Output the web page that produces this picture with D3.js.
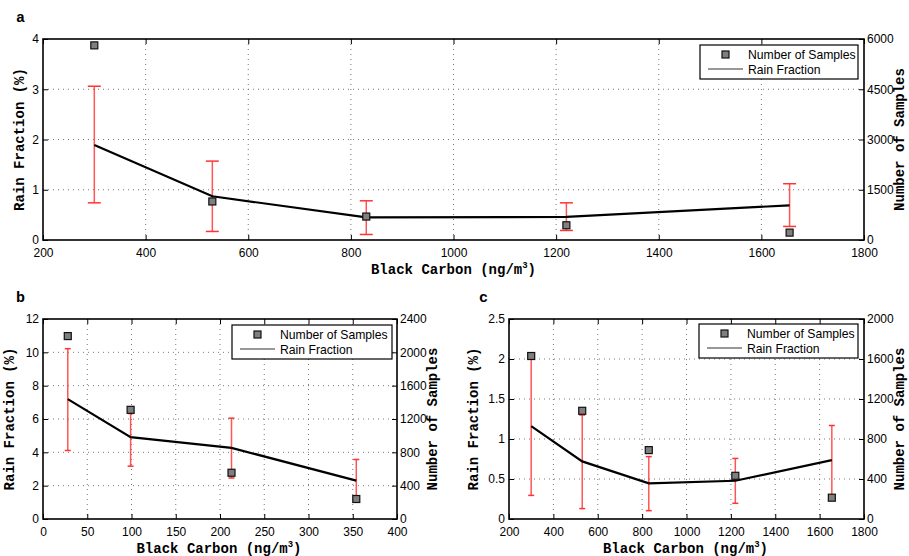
<!DOCTYPE html>
<html lang="en">
<head>
<meta charset="UTF-8">
<title>Rain Fraction vs Black Carbon</title>
<script src="https://d3js.org/d3.v7.min.js"></script>
<style>
    body { margin: 0; background: #fff; }
    svg { font-family: "Liberation Sans", Arial, sans-serif; }
    .tick-label { font-size: 12px; fill: #000; }
    .axis-label { font-family: "Liberation Mono", "DejaVu Sans Mono", monospace; font-weight: bold; font-size: 14px; }
    .panel-label { font-family: "Liberation Mono", monospace; font-weight: bold; font-size: 15px; }
    .legend-text { font-size: 12.2px; }
</style>
</head>
<body>
<div id="chart"></div>
<script>
// panel a
const bcA = [300, 530, 830, 1220, 1655];
const rainA = [1.89, 0.87, 0.45, 0.46, 0.69];
const rainLoA = [0.74, 0.17, 0.11, 0.19, 0.27];
const rainHiA = [3.06, 1.57, 0.78, 0.74, 1.12];
const samplesA = [5810, 1150, 700, 440, 220];

// panel b
const bcB = [28, 99, 213, 354];
const rainB = [7.19, 4.91, 4.27, 2.30];
const rainLoB = [4.11, 3.17, 2.46, 1.1];
const rainHiB = [10.22, 6.33, 6.05, 3.57];
const samplesB = [2195, 1310, 555, 240];

// panel c
const bcC = [300, 530, 830, 1220, 1655];
const rainC = [1.16, 0.72, 0.445, 0.478, 0.736];
const rainLoC = [0.295, 0.13, 0.104, 0.196, 0.28];
const rainHiC = [2.01, 1.30, 0.78, 0.757, 1.169];
const samplesC = [1630, 1082, 689, 432, 213];

const xTicksA = [200, 400, 600, 800, 1000, 1200, 1400, 1600, 1800];
const yTicksA = [0, 1, 2, 3, 4];
const y2TicksA = [0, 1500, 3000, 4500, 6000];
const xTicksB = [0, 50, 100, 150, 200, 250, 300, 350, 400];
const yTicksB = [0, 2, 4, 6, 8, 10, 12];
const y2TicksB = [0, 400, 800, 1200, 1600, 2000, 2400];
const xTicksC = [200, 400, 600, 800, 1000, 1200, 1400, 1600, 1800];
const yTicksC = [0, 0.5, 1, 1.5, 2, 2.5];
const y2TicksC = [0, 400, 800, 1200, 1600, 2000];

const W = 909, H = 556;
const svg = d3.select("#chart").append("svg").attr("width", W).attr("height", H);

function panel(o) {
    const x = d3.scaleLinear().domain(o.xDomain).range([o.left, o.right]);
    const y = d3.scaleLinear().domain(o.yDomain).range([o.bottom, o.top]);
    const y2 = d3.scaleLinear().domain(o.y2Domain).range([o.bottom, o.top]);
    const g = svg.append("g");

    // dotted grid
    g.selectAll(".gx").data(o.xTicks.slice(1, -1)).enter().append("line")
        .attr("x1", d => x(d)).attr("x2", d => x(d))
        .attr("y1", o.top).attr("y2", o.bottom)
        .attr("stroke", "#777").attr("stroke-width", 1).attr("stroke-dasharray", "1,4");
    g.selectAll(".gy").data(o.yTicks.slice(1, -1)).enter().append("line")
        .attr("x1", o.left).attr("x2", o.right)
        .attr("y1", d => y(d)).attr("y2", d => y(d))
        .attr("stroke", "#777").attr("stroke-width", 1).attr("stroke-dasharray", "1,4");

    // axes with inward ticks
    const tk = 5;
    g.append("g").attr("transform", `translate(0,${o.bottom})`)
        .call(d3.axisBottom(x).tickValues(o.xTicks).tickSize(-tk).tickPadding(8).tickFormat(d3.format("d")));
    g.append("g").attr("transform", `translate(0,${o.top})`)
        .call(d3.axisTop(x).tickValues(o.xTicks).tickSize(-tk).tickFormat(""));
    g.append("g").attr("transform", `translate(${o.left},0)`)
        .call(d3.axisLeft(y).tickValues(o.yTicks).tickSize(-tk).tickPadding(4).tickFormat(d => String(d)));
    g.append("g").attr("transform", `translate(${o.right},0)`)
        .call(d3.axisRight(y2).tickValues(o.y2Ticks).tickSize(-tk).tickPadding(3).tickFormat(d => String(d)));
    g.selectAll(".domain").remove();
    g.selectAll(".tick line").attr("stroke", "#000").attr("stroke-width", 1);
    g.selectAll(".tick text").attr("class", "tick-label").attr("font-size", 12)
        .attr("font-family", "Liberation Sans, Arial, sans-serif");

    g.append("rect").attr("x", o.left).attr("y", o.top)
        .attr("width", o.right - o.left).attr("height", o.bottom - o.top)
        .attr("fill", "none").attr("stroke", "#000").attr("stroke-width", 1.6);

    // error bars
    const idx = d3.range(o.bc.length);
    g.selectAll(".err").data(idx).enter().append("line")
        .attr("x1", i => x(o.bc[i])).attr("x2", i => x(o.bc[i]))
        .attr("y1", i => y(o.lo[i])).attr("y2", i => y(o.hi[i]))
        .attr("stroke", "#ff5555").attr("stroke-width", 1.5);
    ["lo", "hi"].forEach(k => {
        g.selectAll(".cap" + k).data(idx).enter().append("line")
            .attr("x1", i => x(o.bc[i]) - o.cap).attr("x2", i => x(o.bc[i]) + o.cap)
            .attr("y1", i => y(o[k][i])).attr("y2", i => y(o[k][i]))
            .attr("stroke", "#ff3333").attr("stroke-width", 1.5);
    });

    // rain fraction line
    g.append("path").datum(idx)
        .attr("d", d3.line().x(i => x(o.bc[i])).y(i => y(o.rain[i])))
        .attr("fill", "none").attr("stroke", "#000").attr("stroke-width", 2.2);

    // sample squares
    const s = 7;
    g.selectAll(".sq").data(idx).enter().append("rect")
        .attr("x", i => x(o.bc[i]) - s / 2).attr("y", i => y2(o.samples[i]) - s / 2)
        .attr("width", s).attr("height", s)
        .attr("fill", "#7f7f7f").attr("stroke", "#111").attr("stroke-width", 1.2);

    // legend
    const L = o.legend;
    g.append("rect").attr("x", L.x).attr("y", L.y).attr("width", L.w).attr("height", 34)
        .attr("fill", "#fff").attr("stroke", "#000").attr("stroke-width", 1.2);
    g.append("rect").attr("x", L.x + 22).attr("y", L.y + 6).attr("width", 7).attr("height", 7)
        .attr("fill", "#7f7f7f").attr("stroke", "#111").attr("stroke-width", 1.2);
    g.append("line").attr("x1", L.x + 8).attr("x2", L.x + 43).attr("y1", L.y + 24).attr("y2", L.y + 24)
        .attr("stroke", "#333").attr("stroke-width", 1.2);
    g.append("text").attr("class", "legend-text").attr("x", L.x + 48).attr("y", L.y + 14).text("Number of Samples");
    g.append("text").attr("class", "legend-text").attr("x", L.x + 48).attr("y", L.y + 29).text("Rain Fraction");

    // axis labels
    const xl = g.append("text").attr("class", "axis-label").attr("text-anchor", "middle")
        .attr("x", (o.left + o.right) / 2 + o.xlShift).attr("y", o.bottom + 34);
    xl.append("tspan").text("Black Carbon (ng/m");
    xl.append("tspan").attr("dy", -6).attr("font-size", 9).text("3");
    xl.append("tspan").attr("dy", 6).text(")");
    const cy = (o.top + o.bottom) / 2;
    g.append("text").attr("class", "axis-label").attr("text-anchor", "middle")
        .attr("transform", `translate(${o.yl},${cy}) rotate(-90)`).text("Rain Fraction (%)");
    g.append("text").attr("class", "axis-label").attr("text-anchor", "middle")
        .attr("transform", `translate(${o.y2l},${cy}) rotate(-90)`).text("Number of Samples");
    g.append("text").attr("class", "panel-label").attr("x", o.lx).attr("y", o.ly).text(o.name);
}

panel({
    name: "a", lx: 16, ly: 22,
    left: 43, right: 864, top: 39, bottom: 240,
    xDomain: [200, 1800], yDomain: [0, 4], y2Domain: [0, 6000],
    xTicks: xTicksA, yTicks: yTicksA, y2Ticks: y2TicksA,
    bc: bcA, rain: rainA, lo: rainLoA, hi: rainHiA, samples: samplesA,
    cap: 6.5, legend: {x: 700, y: 45, w: 158}, yl: 24, y2l: 904, xlShift: 0
});
panel({
    name: "b", lx: 16, ly: 302,
    left: 43, right: 397, top: 319, bottom: 519,
    xDomain: [0, 400], yDomain: [0, 12], y2Domain: [0, 2400],
    xTicks: xTicksB, yTicks: yTicksB, y2Ticks: y2TicksB,
    bc: bcB, rain: rainB, lo: rainLoB, hi: rainHiB, samples: samplesB,
    cap: 3, legend: {x: 232, y: 325, w: 160}, yl: 14, y2l: 437, xlShift: -1
});
panel({
    name: "c", lx: 479, ly: 302,
    left: 509, right: 864, top: 319, bottom: 519,
    xDomain: [200, 1800], yDomain: [0, 2.5], y2Domain: [0, 2000],
    xTicks: xTicksC, yTicks: yTicksC, y2Ticks: y2TicksC,
    bc: bcC, rain: rainC, lo: rainLoC, hi: rainHiC, samples: samplesC,
    cap: 3, legend: {x: 699, y: 324, w: 159}, yl: 478, y2l: 904, xlShift: -1
});
</script>
</body>
</html>
